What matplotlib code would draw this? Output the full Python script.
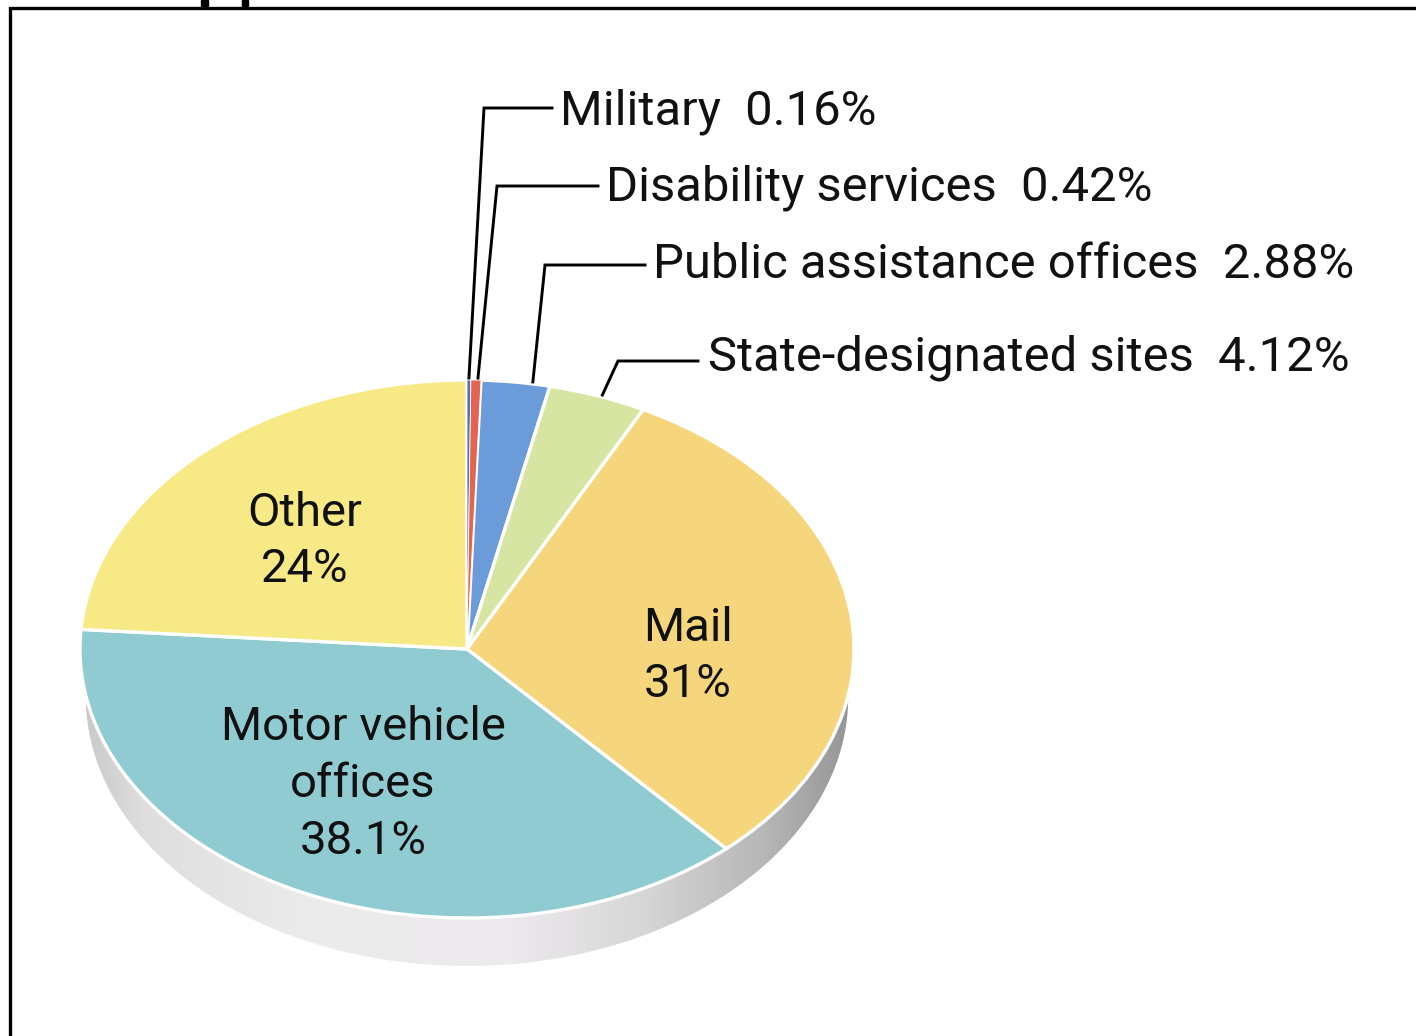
import numpy as np
import matplotlib
matplotlib.use("Agg")
import matplotlib.pyplot as plt
from matplotlib.transforms import Affine2D
from matplotlib.patches import Polygon, Rectangle
from matplotlib.colors import LinearSegmentedColormap

plt.rcParams['font.family'] = ['Roboto', 'DejaVu Sans']

# ---- data ----
categories = ["Military", "Disability services", "Public assistance offices",
              "State-designated sites", "Mail", "Motor vehicle offices", "Other"]
shares = [0.16, 0.42, 2.88, 4.12, 31, 38.1, 24]
share_labels = ["0.16%", "0.42%", "2.88%", "4.12%", "31%", "38.1%", "24%"]
colors = ["#4f72b8", "#e3654f", "#6b9bd8", "#d6e6a2", "#f6d67c", "#90cbd2", "#f7e986"]

W, H = 1416, 1036
fig = plt.figure(figsize=(W / 100, H / 100), dpi=100)
ax = fig.add_axes([0, 0, 1, 1])
ax.set_xlim(0, W)
ax.set_ylim(0, H)
ax.set_aspect('auto')
ax.axis('off')

def Y(y):  # image row -> axis y
    return H - y

cx, cy = 467, Y(649)
rx, ry = 387, 269
depth = 48

# side band (3D rim)
phi = np.linspace(0, np.pi, 300)
top_arc = np.column_stack([cx + rx * np.cos(phi), cy - ry * np.sin(phi)])
bot_arc = np.column_stack([cx + rx * 0.985 * np.cos(phi[::-1]), cy - ry * np.sin(phi[::-1]) - depth])
band = Polygon(np.vstack([top_arc, bot_arc]), closed=True, facecolor='none', edgecolor='none')
ax.add_patch(band)
cmap = LinearSegmentedColormap.from_list("rim", [
    (0.0, "#c8c8c8"), (0.08, "#dedede"), (0.3, "#ececec"), (0.55, "#eeeaee"),
    (0.72, "#d8d8d8"), (0.88, "#b8b8b8"), (1.0, "#959595")])
grad = np.tile(np.linspace(0, 1, 400), (10, 1))
im = ax.imshow(grad, cmap=cmap, extent=[cx - rx, cx + rx, cy - ry - depth - 5, cy],
               aspect='auto', origin='lower', zorder=1)
im.set_clip_path(band)

# top face
wedges, _ = ax.pie(shares, colors=colors, startangle=90, counterclock=False,
                   center=(cx, cy), radius=rx,
                   wedgeprops=dict(edgecolor='white', linewidth=2.4))
scale = Affine2D().translate(-cx, -cy).scale(1, ry / rx).translate(cx, cy)
for i, w in enumerate(wedges):
    w.set_transform(scale + ax.transData)
    w.set_zorder(2)
    if shares[i] < 1:
        w.set_linewidth(0.6)
        w.set_zorder(3)
ax.set_xlim(0, W)
ax.set_ylim(0, H)
ax.set_aspect('auto')

fs = 34
# inner labels
inner = {4: (688, 656), 5: (363, 784), 6: (305, 541)}
inner_names = {4: "Mail", 5: "Motor vehicle\noffices", 6: "Other"}
for i, (x, y) in inner.items():
    ax.text(x, Y(y), f"{inner_names[i]}\n{share_labels[i]}", ha='center', va='center',
            fontsize=fs, linespacing=1.36, color='#111111', zorder=5)

# callouts for small slices
elbows = [(484, 108, 552), (497, 186, 598), (545, 265, 645), (618, 361, 698)]
anchor_frac = [0.5, 0.7, 0.75, 0.55]
text_x = [560, 606, 653, 708]
text_y = [112, 188, 265, 358]
cum = np.cumsum([0] + shares)
total = sum(shares)
for i in range(4):
    ang = (cum[i] + shares[i] * anchor_frac[i]) / total * 2 * np.pi
    sx = cx + rx * np.sin(ang)
    sy = cy + ry * np.cos(ang) + 2
    ex, ey, hx = elbows[i]
    ax.plot([sx, ex, hx], [sy, Y(ey), Y(ey)], color='black', lw=2.1,
            solid_joinstyle='miter', zorder=4)
    ax.text(text_x[i], Y(text_y[i]), f"{categories[i]}  {share_labels[i]}",
            ha='left', va='center', fontsize=35.3, color='#111111', zorder=5)

# frame
ax.plot([9.5, 9.5, W], [0, Y(7.5), Y(7.5)], color='black', lw=2.4,
        solid_joinstyle='miter', zorder=6)
# cut-off title remnants
ax.add_patch(Rectangle((201, Y(6)), 7, 6, color='black', zorder=6))
ax.add_patch(Rectangle((242, Y(6)), 6, 6, color='black', zorder=6))

fig.savefig("out.png", dpi=100)
